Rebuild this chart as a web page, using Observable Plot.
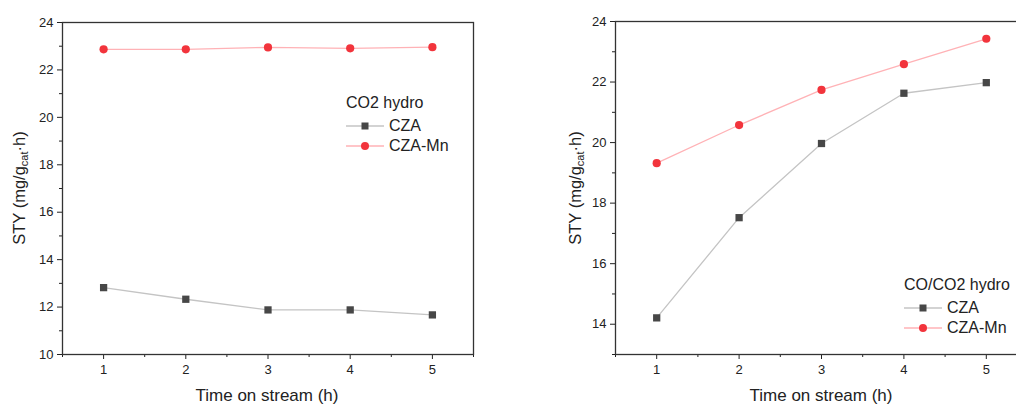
<!DOCTYPE html>
<html>
<head>
<meta charset="utf-8">
<script src="https://cdn.jsdelivr.net/npm/d3@7"></script>
<script src="https://cdn.jsdelivr.net/npm/@observablehq/plot@0.6"></script>
<style>
  body { margin:0; width:1016px; height:405px; overflow:hidden; position:relative; background:#fff;
         font-family:"Liberation Sans", Arial, sans-serif; color:#222; }
  .panel { position:absolute; top:0; width:540px; height:405px; }
  .panel svg { max-width:none !important; }
  .xlab { position:absolute; font-size:17px; white-space:nowrap; transform:translateX(-50%); }
  .ylab { position:absolute; font-size:16.5px; white-space:nowrap; transform:translate(-50%,-50%) rotate(-90deg); }
  .ylab sub { font-size:11px; vertical-align:-3px; }
  .legend { position:absolute; font-size:16px; line-height:20.5px; white-space:nowrap; }
  .legend .row { display:flex; align-items:center; height:20.5px; }
  .legend svg { margin-right:5px; }
</style>
</head>
<body>
<div id="left" class="panel" style="left:0"></div>
<div id="right" class="panel" style="left:540px"></div>
<script>
// ---- data ----
const hours = [1, 2, 3, 4, 5];
const seriesNames = ["CZA", "CZA-Mn"];
const co2_CZA   = [12.82, 12.33, 11.88, 11.88, 11.67];
const co2_CZAMn = [22.87, 22.87, 22.95, 22.91, 22.96];
const mix_CZA   = [14.21, 17.52, 19.97, 21.63, 21.98];
const mix_CZAMn = [19.32, 20.58, 21.74, 22.59, 23.43];
const xMajor = [1, 2, 3, 4, 5];
const xMinor = [0.5, 1.5, 2.5, 3.5, 4.5, 5.5];
const leftYMajor  = [10, 12, 14, 16, 18, 20, 22, 24];
const leftYMinor  = [11, 13, 15, 17, 19, 21, 23];
const rightYMajor = [14, 16, 18, 20, 22, 24];
const rightYMinor = [13, 15, 17, 19, 21, 23];
const legendTitles = ["CO2 hydro", "CO/CO2 hydro"];
const xTitle = "Time on stream (h)";

const lineColor = {"CZA": "#c4c4c4", "CZA-Mn": "#ffb2b6"};
const markColor = {"CZA": "#474747", "CZA-Mn": "#f2343c"};
const symbolOf  = {"CZA": "square", "CZA-Mn": "circle"};

function rows(a, b) {
  return [
    ...hours.map((h, i) => ({h, v: a[i], s: "CZA"})),
    ...hours.map((h, i) => ({h, v: b[i], s: "CZA-Mn"}))
  ];
}

function panel(data, yDomain, yMajor, yMinor, margins) {
  const marks = [];
  for (const s of seriesNames) {
    const d = data.filter(r => r.s === s);
    marks.push(Plot.line(d, {x: "h", y: "v", stroke: lineColor[s], strokeWidth: 1.3}));
  }
  for (const s of seriesNames) {
    const d = data.filter(r => r.s === s);
    marks.push(Plot.dot(d, {x: "h", y: "v", fill: markColor[s], stroke: "none", symbol: symbolOf[s], r: 4.1}));
  }
  marks.push(
    Plot.axisX(xMajor, {tickSize: 5, tickPadding: 5, fontSize: 13, label: null, stroke: "#222", fill: "#222"}),
    Plot.axisX(xMinor, {tickSize: 3, text: null, label: null, stroke: "#222"}),
    Plot.axisY(yMajor, {tickSize: 5, tickPadding: 4, fontSize: 13, label: null, stroke: "#222", fill: "#222"}),
    Plot.axisY(yMinor, {tickSize: 3, text: null, label: null, stroke: "#222"}),
    Plot.frame({stroke: "#333", strokeWidth: 1.3})
  );
  return Plot.plot({
    width: 540, height: 405,
    marginLeft: margins[0], marginRight: margins[1], marginTop: margins[2], marginBottom: margins[3],
    x: {domain: [0.5, 5.5]},
    y: {domain: yDomain},
    style: {fontFamily: '"Liberation Sans", Arial, sans-serif', background: "transparent", maxWidth: "none", overflow: "visible"},
    marks
  });
}

document.getElementById("left").append(
  panel(rows(co2_CZA, co2_CZAMn), [10, 24], leftYMajor, leftYMinor, [62, 67, 22, 51]));
document.getElementById("right").append(
  panel(rows(mix_CZA, mix_CZAMn), [13, 24], rightYMajor, rightYMinor, [75, 53, 21, 51]));

// ---- axis titles and legends (HTML around the SVGs) ----
function addXLabel(cx) {
  const d = document.createElement("div");
  d.className = "xlab"; d.textContent = xTitle;
  d.style.left = cx + "px"; d.style.top = "386px";
  document.body.append(d);
}
function addYLabel(cx, cy) {
  const d = document.createElement("div");
  d.className = "ylab";
  d.innerHTML = "STY (mg/g<sub>cat</sub>·h)";
  d.style.left = cx + "px"; d.style.top = cy + "px";
  document.body.append(d);
}
function addLegend(title, left, top) {
  const d = document.createElement("div");
  d.className = "legend"; d.style.left = left + "px"; d.style.top = top + "px";
  const t = document.createElement("div"); t.className = "row"; t.textContent = title;
  t.style.marginBottom = "2px";
  d.append(t);
  for (const s of seriesNames) {
    const r = document.createElement("div"); r.className = "row";
    const sym = symbolOf[s] === "square"
      ? `<rect x="15.5" y="6.5" width="7" height="7" fill="${markColor[s]}"/>`
      : `<circle cx="19" cy="10" r="4" fill="${markColor[s]}"/>`;
    r.innerHTML = `<svg width="38" height="20"><line x1="0" x2="38" y1="10" y2="10" stroke="${lineColor[s]}" stroke-width="1.3"/>${sym}</svg><span>${s}</span>`;
    d.append(r);
  }
  document.body.append(d);
}
addXLabel(267); addXLabel(821);
addYLabel(20, 188); addYLabel(576, 188);
addLegend(legendTitles[0], 346, 93);
addLegend(legendTitles[1], 904, 275);
</script>
</body>
</html>
